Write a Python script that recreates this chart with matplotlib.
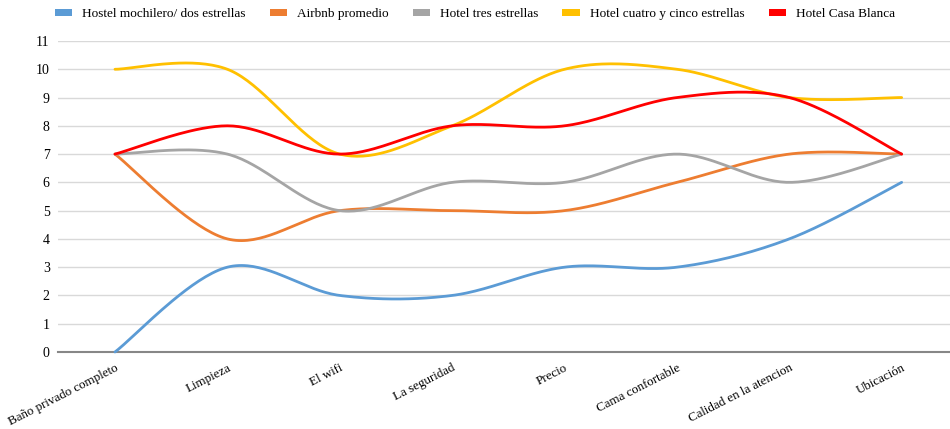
import numpy as np
import matplotlib.pyplot as plt
from matplotlib.patches import Patch

# Data
categorias = ['Baño privado completo', 'Limpieza', 'El wifi', 'La seguridad',
              'Precio', 'Cama confortable', 'Calidad en la atencion', 'Ubicación']
hostel = [0, 3, 2, 2, 3, 3, 4, 6]
airbnb = [7, 4, 5, 5, 5, 6, 7, 7]
tres_estrellas = [7, 7, 5, 6, 6, 7, 6, 7]
cuatro_cinco = [10, 10, 7, 8, 10, 10, 9, 9]
casa_blanca = [7, 8, 7, 8, 8, 9, 9, 7]

series = [
    ('Hostel mochilero/ dos estrellas', hostel, '#5B9BD5'),
    ('Airbnb promedio', airbnb, '#ED7D31'),
    ('Hotel tres estrellas', tres_estrellas, '#A5A5A5'),
    ('Hotel cuatro y cinco estrellas', cuatro_cinco, '#FFC000'),
    ('Hotel Casa Blanca', casa_blanca, '#FF0000'),
]

plt.rcParams['font.family'] = ['Liberation Serif', 'DejaVu Serif']


def smooth(y, n=40):
    # Catmull-Rom style bezier, like spreadsheet "smoothed line"
    x = np.arange(len(y), dtype=float)
    y = np.asarray(y, dtype=float)
    px = np.concatenate([[x[0]], x, [x[-1]]])
    py = np.concatenate([[y[0]], y, [y[-1]]])
    xs, ys = [], []
    t = np.linspace(0, 1, n)
    for i in range(len(y) - 1):
        p0 = np.array([px[i + 1], py[i + 1]])
        p3 = np.array([px[i + 2], py[i + 2]])
        p1 = p0 + (np.array([px[i + 2], py[i + 2]]) - np.array([px[i], py[i]])) / 6
        p2 = p3 - (np.array([px[i + 3], py[i + 3]]) - np.array([px[i + 1], py[i + 1]])) / 6
        b = ((1 - t) ** 3)[:, None] * p0 + (3 * (1 - t) ** 2 * t)[:, None] * p1 \
            + (3 * (1 - t) * t ** 2)[:, None] * p2 + (t ** 3)[:, None] * p3
        xs.append(b[:, 0])
        ys.append(b[:, 1])
    return np.concatenate(xs), np.concatenate(ys)


fig = plt.figure(figsize=(9.5, 4.29), dpi=100)
ax = fig.add_axes([58 / 950, 1 - 352 / 429, 1 - 58 / 950, (352 - 41) / 429])

for nombre, valores, color in series:
    xs, ys = smooth(valores)
    ax.plot(xs, ys, color=color, lw=2, solid_capstyle='round', clip_on=False, zorder=3)

ax.set_ylim(0, 11)
ax.set_xlim(-0.507, 7.43)
ax.set_yticks(range(0, 12))
ax.yaxis.grid(True, color='#D9D9D9', lw=1)
ax.set_axisbelow(True)
for s in ['top', 'right', 'left']:
    ax.spines[s].set_visible(False)
ax.spines['bottom'].set_color('#878787')
ax.spines['bottom'].set_linewidth(1.5)
ax.tick_params(axis='both', length=0, labelsize=10, colors='black')
ax.tick_params(axis='y', pad=6)
ax.set_xticks(range(len(categorias)))
ax.set_xticklabels(categorias, rotation=27, ha='right', rotation_mode='anchor',
                   fontsize=9.4)
for lbl in ax.get_xticklabels():
    lbl.set_x(lbl.get_position()[0])
ax.tick_params(axis='x', pad=7)

handles = [Patch(facecolor=c, edgecolor='none', label=n) for n, _, c in series]
fig.legend(handles=handles, loc='center', bbox_to_anchor=(0.5, 1 - 14 / 429), ncol=5,
           frameon=False, fontsize=9.5, handlelength=1.3, handleheight=0.4,
           columnspacing=1.8, handletextpad=0.8)

fig.savefig('out.png', dpi=100)
